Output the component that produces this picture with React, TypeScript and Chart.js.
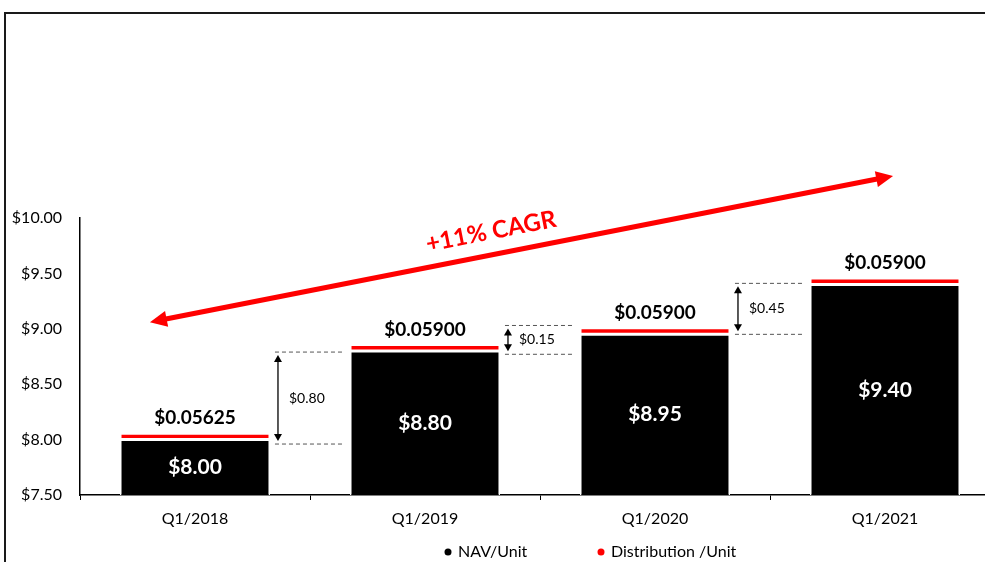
import React, { useEffect, useRef } from 'react';
import { Chart, registerables } from 'chart.js';

Chart.register(...registerables);

const categories = ['Q1/2018', 'Q1/2019', 'Q1/2020', 'Q1/2021'];
const navValues = [8.0, 8.8, 8.95, 9.4];
const distValues = [0.05625, 0.059, 0.059, 0.059];
const navLabels = ['$8.00', '$8.80', '$8.95', '$9.40'];
const distLabels = ['$0.05625', '$0.05900', '$0.05900', '$0.05900'];
const yTicks = [7.5, 8.0, 8.5, 9.0, 9.5, 10.0];
const gapLabels = ['$0.80', '$0.15', '$0.45'];
const gapTop = [8.79, 9.03, 9.41];
const gapBottom = [7.96, 8.77, 8.95];
const cagrLabel = '+11% CAGR';
const cagrStart = [-0.196, 9.06];
const cagrEnd = [3.035, 10.38];
const legendLabels = ['NAV/Unit', 'Distribution /Unit'];
const seriesColors = ['#000000', '#FF0000'];

const FONT = 'Lato';

function arrowHead(ctx: CanvasRenderingContext2D, x: number, y: number, ang: number, len: number, half: number) {
  ctx.beginPath();
  ctx.moveTo(x, y);
  ctx.lineTo(x - len * Math.cos(ang) + half * Math.sin(ang), y - len * Math.sin(ang) - half * Math.cos(ang));
  ctx.lineTo(x - len * Math.cos(ang) - half * Math.sin(ang), y - len * Math.sin(ang) + half * Math.cos(ang));
  ctx.closePath();
  ctx.fill();
}

const annotationPlugin = {
  id: 'annotations',
  afterDraw(chart: any) {
    const ctx: CanvasRenderingContext2D = chart.ctx;
    const xs = chart.scales.x;
    const ys = chart.scales.y;
    const area = chart.chartArea;
    const navMeta = chart.getDatasetMeta(0);
    const distMeta = chart.getDatasetMeta(1);
    ctx.save();

    // frame
    ctx.strokeStyle = '#1a1a1a';
    ctx.lineWidth = 2;
    ctx.beginPath();
    ctx.moveTo(5, chart.height);
    ctx.lineTo(5, 13);
    ctx.lineTo(chart.width, 13);
    ctx.stroke();

    // NAV labels inside bars
    ctx.textAlign = 'center';
    ctx.textBaseline = 'middle';
    navMeta.data.forEach((bar: any, i: number) => {
      ctx.fillStyle = '#ffffff';
      ctx.font = `bold 21px ${FONT}`;
      ctx.fillText(navLabels[i], bar.x, (bar.y + area.bottom) / 2);
    });
    // distribution labels above bars
    distMeta.data.forEach((bar: any, i: number) => {
      ctx.fillStyle = '#000000';
      ctx.font = `bold 19px ${FONT}`;
      ctx.fillText(distLabels[i], bar.x, bar.y - 15);
    });

    // gap annotations
    for (let i = 0; i < gapLabels.length; i++) {
      const a = navMeta.data[i];
      const b = navMeta.data[i + 1];
      const x0 = a.x + a.width / 2 + 5;
      const x1 = b.x - b.width / 2 - 7;
      const yT = ys.getPixelForValue(gapTop[i]);
      const yB = ys.getPixelForValue(gapBottom[i]);
      ctx.strokeStyle = '#555555';
      ctx.lineWidth = 1;
      ctx.setLineDash([4, 3]);
      ctx.beginPath();
      ctx.moveTo(x0, yT);
      ctx.lineTo(x1, yT);
      ctx.moveTo(x0, yB);
      ctx.lineTo(x1, yB);
      ctx.stroke();
      ctx.setLineDash([]);
      const ax = x0 + 3;
      const t = yT + 3;
      const bt = yB - 3;
      ctx.strokeStyle = '#000000';
      ctx.fillStyle = '#000000';
      ctx.lineWidth = 1.3;
      ctx.beginPath();
      ctx.moveTo(ax, t + 5);
      ctx.lineTo(ax, bt - 5);
      ctx.stroke();
      arrowHead(ctx, ax, t, -Math.PI / 2, 7, 4);
      arrowHead(ctx, ax, bt, Math.PI / 2, 7, 4);
      ctx.font = `14px ${FONT}`;
      ctx.textAlign = 'left';
      ctx.textBaseline = 'middle';
      ctx.fillText(gapLabels[i], ax + 11, (yT + yB) / 2);
    }

    // CAGR arrow
    const px0 = xs.getPixelForValue(cagrStart[0]);
    const py0 = ys.getPixelForValue(cagrStart[1]);
    const px1 = xs.getPixelForValue(cagrEnd[0]);
    const py1 = ys.getPixelForValue(cagrEnd[1]);
    const ang = Math.atan2(py1 - py0, px1 - px0);
    const hl = 17;
    ctx.strokeStyle = seriesColors[1];
    ctx.fillStyle = seriesColors[1];
    ctx.lineWidth = 5;
    ctx.beginPath();
    ctx.moveTo(px0 + (hl - 2) * Math.cos(ang), py0 + (hl - 2) * Math.sin(ang));
    ctx.lineTo(px1 - (hl - 2) * Math.cos(ang), py1 - (hl - 2) * Math.sin(ang));
    ctx.stroke();
    arrowHead(ctx, px1, py1, ang, hl, 8);
    arrowHead(ctx, px0, py0, ang + Math.PI, hl, 8);

    const tt = 0.465;
    const tx = px0 + (px1 - px0) * tt + 23 * Math.sin(ang);
    const ty = py0 + (py1 - py0) * tt - 23 * Math.cos(ang);
    ctx.save();
    ctx.translate(tx, ty);
    ctx.rotate(ang);
    ctx.font = `bold 24px ${FONT}`;
    ctx.textAlign = 'center';
    ctx.textBaseline = 'middle';
    ctx.fillText(cagrLabel, 0, 0);
    ctx.restore();

    // legend
    const legendX = [448, 601];
    const legendY = 552;
    ctx.font = `16px ${FONT}`;
    ctx.textAlign = 'left';
    ctx.textBaseline = 'middle';
    legendLabels.forEach((lab, i) => {
      ctx.fillStyle = seriesColors[i];
      ctx.beginPath();
      ctx.arc(legendX[i], legendY, 3.5, 0, Math.PI * 2);
      ctx.fill();
      ctx.fillStyle = '#000000';
      ctx.fillText(lab, legendX[i] + 10, legendY);
    });

    ctx.restore();
  },
};

export default function App() {
  const ref = useRef<HTMLCanvasElement>(null);
  useEffect(() => {
    Chart.defaults.font.family = FONT;
    const chart = new Chart(ref.current as HTMLCanvasElement, {
      type: 'bar',
      data: {
        labels: categories,
        datasets: [
          {
            label: legendLabels[0],
            data: navValues,
            backgroundColor: seriesColors[0],
            borderColor: '#ffffff',
            borderWidth: 1.5,
            borderSkipped: false,
            barPercentage: 1,
            categoryPercentage: 0.652,
          },
          {
            label: legendLabels[1],
            data: distValues,
            backgroundColor: seriesColors[1],
            borderColor: '#ffffff',
            borderWidth: 1.5,
            borderSkipped: false,
            barPercentage: 1,
            categoryPercentage: 0.652,
          },
        ],
      },
      options: {
        animation: false,
        responsive: true,
        maintainAspectRatio: false,
        layout: { padding: { top: 218, left: 0, right: 0, bottom: 27 } },
        plugins: {
          legend: { display: false },
          tooltip: { enabled: false },
          title: { display: false },
        },
        scales: {
          x: {
            stacked: true,
            grid: {
              offset: true,
              drawOnChartArea: false,
              drawTicks: true,
              tickLength: 5,
              color: '#000000',
              lineWidth: 1,
            },
            border: { display: true, color: '#000000', width: 1.5 },
            ticks: { color: '#000000', font: { size: 16, family: FONT }, padding: 9 },
            afterFit: (s: any) => {
              s.height = 40;
            },
          },
          y: {
            stacked: true,
            min: 7.5,
            max: 10,
            grid: { display: false },
            border: { display: true, color: '#000000', width: 1.5 },
            ticks: {
              color: '#000000',
              font: { size: 16, family: FONT },
              padding: 10,
              callback: (v: any) => '$' + Number(v).toFixed(2),
            },
            afterBuildTicks: (s: any) => {
              s.ticks = yTicks.map((v) => ({ value: v }));
            },
            afterFit: (s: any) => {
              s.width = 80;
            },
          },
        },
      },
      plugins: [annotationPlugin],
    } as any);
    return () => chart.destroy();
  }, []);
  return (
    <div style={{ position: 'fixed', left: 0, top: 0, width: 985, height: 562, overflow: 'hidden', background: '#ffffff' }}>
      <div style={{ position: 'relative', width: 1000, height: 562 }}>
        <canvas ref={ref} />
      </div>
    </div>
  );
}
